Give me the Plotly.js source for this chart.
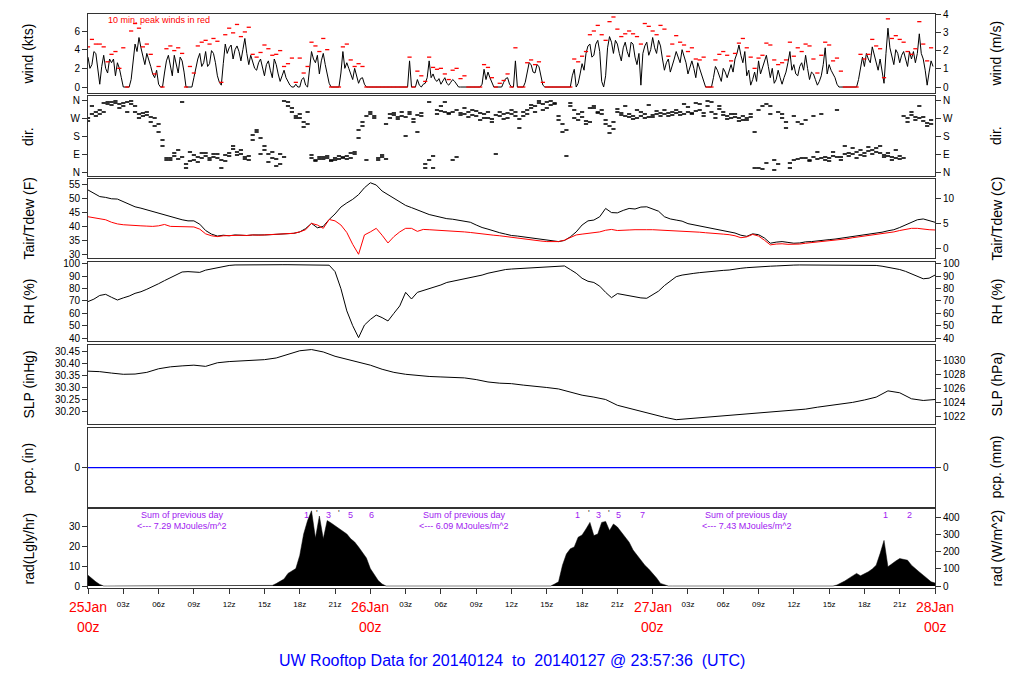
<!DOCTYPE html>
<html><head><meta charset="utf-8">
<script src="https://cdn.plot.ly/plotly-3.0.1.min.js"></script>
<style>html,body{margin:0;padding:0;background:#fff}#chart{width:1024px;height:700px}</style>
</head><body><div id="chart"></div>
<script>
// ---------- DATA (20-min slots: wind, peak, dir, rad) ----------
const windKts = [
3.2,2.4,3.6, 0.3,3.4,1.5, 2.6,1.2,2.0, 0,0,0.8, 4.6,5.3,3.2, 3.6,2.2,1.0, 0.3,0,2.8, 2.2,3.4,1.5,
2.8,0,0, 1.0,3.0,2.2, 3.8,2.5,3.6, 1.2,0.2,4.6, 4.2,3.0,4.4, 2.8,5.2,2.4, 2.8,1.8,3.0, 1.2,2.8,1.0,
2.4,0.6,1.8, 0.5,0,0.3, 0,1.0,0, 3.8,2.6,1.4, 3.6,1.5,0, 0,0,3.8, 2.6,1.4,2.0, 0.4,1.0,0,
0,0,0, 0,0,0, 0,0,0, 0,2.8,0, 0.8,0,0.4, 2.8,1.4,0.6, 0.3,1.0,0.2, 0.8,0.3,0,
0,0,0, 0,0,1.9, 1.6,0.4,0, 0,0.5,1.0, 0,2.8,0, 0,1.6,2.4, 1.5,2.2,0.2, 0,0,0,
0,0,0, 0,1.9,0.4, 2.5,3.6,4.6, 3.4,5.0,0.6, 1.2,5.4,3.6, 4.6,2.8,4.8, 3.2,4.6,2.4, 0.2,4.4,3.4,
5.3,3.6,4.4, 1.8,3.0,2.2, 3.8,2.6,3.4, 1.4,2.8,1.0, 2.0,0.8,0, 0,2.2,1.2, 2.0,1.0,2.4, 3.0,4.5,2.6,
1.2,0.2,1.6, 2.8,2.0,3.4, 1.0,0.4,1.8, 0.3,1.6,3.8, 2.4,1.2,2.6, 3.4,0.8,1.4, 0.2,1.2,4.2, 2.4,1.4,0.3,
0,0,0, 0,0,2.2, 2.2,3.0,4.3, 2.6,3.0,0.4, 6.3,3.2,4.0, 2.6,3.8,2.2, 3.0,2.6,5.7, 3.0,0.2,2.8];
// readings half-way between the slots above (10 minutes later)
const windKtsMid = [
2.0,3.8,1.6, 2.2,2.0,3.0, 3.0,2.6,1.0, 0,0,3.0, 3.8,4.2,2.4, 3.0,1.4,1.8, 0,1.5,3.4, 1.2,2.6,3.2,
1.6,0,0, 2.2,3.6,2.6, 2.2,3.9,2.6, 0.5,2.5,3.6, 4.5,4.0,3.8, 4.0,3.6,3.4, 2.0,2.6,2.2, 2.4,1.8,3.0,
1.4,1.2,1.0, 0.2,0,0, 0.8,0.2,2.2, 3.0,3.4,2.8, 2.4,0.4,0, 0,1.5,2.0, 2.0,0.8,1.2, 0.9,0.3,0,
0,0,0, 0,0,0, 0,0,0, 0,0,0, 0.2,0.3,1.0, 1.0,0.8,0.9, 0.7,0.4,0.5, 0.6,0,0,
0,0,0, 0,0.3,0.8, 1.0,0,0, 0,0.9,0.3, 0,0,0, 0.5,2.6,1.6, 2.4,1.2,0, 0,0,0,
0,0,0, 1.2,0,1.4, 1.8,4.4,3.2, 4.6,3.8,0, 4.2,4.8,5.0, 3.6,4.2,3.8, 4.8,3.2,3.6, 3.6,4.8,4.0,
4.2,5.0,3.0, 2.6,1.6,3.0, 3.2,4.0,2.6, 2.2,2.0,2.6, 1.2,0,0, 1.0,1.8,0.6, 1.6,1.8,1.6, 3.6,3.4,3.8,
1.8,0.8,0.6, 1.4,2.8,2.2, 2.0,0.8,1.0, 1.0,2.6,1.8, 1.4,2.2,1.8, 2.0,1.6,0.8, 0.6,2.4,1.4, 1.8,1.0,0,
0,0,0, 0,0.8,3.2, 3.6,2.6,3.4, 1.8,1.8,3.6, 4.2,2.4,3.6, 3.4,3.0,3.8, 3.8,3.6,3.6, 1.8,1.6,2.2];
const peakKts = [
4.3,5.1,4.6, 4.6,4.3,2.7, 3.5,3.8,2.0, 4.2,0,6.0, 6.8,6.3,4.3, 4.6,3.5,1.4, 2.2,0,4.1, 4.4,3.9,4.2,
3.6,0,2.2, 1.5,4.4,4.8, 5.0,4.6,5.2, 4.9,0.5,5.6, 6.3,5.8,6.7, 5.4,5.9,6.4, 3.5,3.2,3.7, 4.5,4.1,3.4,
3.5,3.9,2.2, 2.5,3.1,0.5, 3.1,1.5,2.2, 4.8,4.4,3.8, 5.2,4.0,0, 0,0,4.3, 4.6,2.9,2.2, 2.5,2.2,0,
0,0,0, 0,0,0, 0,0,0, 0,3.2,0, 1.7,1.2,0.6, 3.2,2.1,1.9, 2.0,1.4,0.8, 1.8,2.0,0.9,
1.2,0,0, 0,0,2.4, 2.1,1.0,0, 0.4,0.7,1.4, 0,4.2,0, 0,2.6,2.9, 2.4,2.7,0.5, 0,0,0,
0,0,0, 0,3.0,2.7, 3.3,3.8,5.6, 6.0,6.6,5.6, 5.0,7.0,7.5, 6.2,5.4,5.7, 6.0,5.7,5.4, 4.6,6.8,6.5,
6.0,5.6,6.6, 6.2,3.3,4.6, 5.5,4.8,4.5, 3.8,4.2,3.0, 2.9,3.2,0, 0,2.9,3.5, 3.8,3.4,2.8, 3.6,4.7,5.2,
4.2,3.2,2.0, 3.1,3.4,4.7, 4.5,2.9,2.4, 2.6,2.9,4.8, 3.3,4.2,3.8, 4.6,4.4,3.0, 1.5,3.4,4.8, 4.5,2.8,3.1,
1.7,0,0, 0,0,3.5, 3.0,3.5,5.1, 4.4,4.1,1.0, 7.3,5.2,5.5, 5.1,4.8,3.8, 3.5,4.1,7.0, 4.6,2.8,4.2];
const dirA = [
255,290,300, 310,345,340, 350,345,340, 345,350,340, 330,290,280, 285,275,270, 200,160,70, 70,80,65,
75,40,55, 60,75,70, 80,70,75, 70,60,85, 95,115,100, 90,75,80, 185,200,170, 110,90,70,
65,40,75, 330,300,280, 270,250,240, 70,60,75, 65,70,60, 70,65,75, 80,70,90, 210,250,280,
290,280,70, 75,65,270, 285,275,280, 275,290,265, 285,280,40, 60,20,310, 305,300,295, 300,75,295,
290,300,285, 280,295,270, 270,265,285, 280,290,270, 290,280,265, 300,290,320, 330,345,310, 350,335,340,
280,240,210, 330,310,290, 275,255,250, 320,300,310, 240,230,215, 300,285,280, 275,280,270, 280,290,275,
285,290,295, 290,295,285, 295,300,290, 300,295,305, 310,295,330, 300,290,315, 285,280,270, 275,270,280,
270,275,20, 310,15,340, 290,10,40, 270,250,20, 60,250,70, 70,60,75, 65,70,75, 70,80,75,
75,90,80, 90,100,85, 95,105,90, 100,95,85, 80,75,70, 80,280,270, 285,275,270, 255,245,240];
const dirB = [
270,330,280, 290,300,350, 335,355,320, 330,300,355, 300,270,295, 300,250,230, 240,130,60, 60,95,110,
350,20,100, 85,50,95, 95,60,90, 90,20,55, 80,130,85, 110,65,60, 160,210,90, 130,50,100,
30,90,355, 350,320,270, 290,225,300, 85,55,65, 75,80,55, 60,80,70, 65,95,100, 170,230,60,
300,270,60, 85,240,290, 295,265,300, 180,300,250, 200,295,20, 350,80,290, 330,350,290, 60,310,285,
320,275,310, 305,260,290, 300,250,90, 300,265,295, 310,300,220, 280,310,335, 300,355,340, 320,355,345,
260,200,80, 345,270,260, 300,240,320, 330,295,290, 260,195,250, 315,295,330, 290,265,310, 300,270,335,
275,305,280, 310,280,300, 310,285,340, 325,290,345, 340,280,355, 350,270,330, 300,265,290, 290,255,260,
260,290,200, 20,330,45, 330,60,300, 290,220,45, 280,65,240, 260,55,280, 100,290,60, 55,100,310,
60,130,95, 120,70,110, 80,125,110, 120,130,75, 95,60,110, 65,70,250, 300,260,330, 275,230,260];
const radLgly = [
5.4,3.5,2.1, 0.8,0,0, 0,0,0, 0,0,0, 0,0,0, 0,0,0, 0,0,0, 0,0,0, 0,0,0, 0,0,0, 0,0,0, 0,0,0, 0,0,0, 0,0,0, 0,0,0,
0,0,0.3, 1.2,2.4,3.5, 6.3,7.5,8.7, 15.3,26,32.7, 37.6,24,35, 23.6,32.7,31.5, 30.2,29,27.7, 26,23.6,22, 19.5,17,14,
8.7,5.5,2.8, 1.0,0,0, 0,0,0, 0,0,0, 0,0,0, 0,0,0, 0,0,0, 0,0,0, 0,0,0, 0,0,0, 0,0,0, 0,0,0, 0,0,0, 0,0,0, 0,0,0,
0,0,1.0, 2.1,10.4,16, 18.6,19.5,24.4, 25.5,28.5,31.8, 25.2,26,31.8, 32.3,27.7,31, 29.5,26.9,24.5, 21.9,18,15.3, 13,10.4,8.5,
6.3,4,1.3, 0.5,0,0, 0,0,0, 0,0,0, 0,0,0, 0,0,0, 0,0,0, 0,0,0, 0,0,0, 0,0,0, 0,0,0, 0,0,0, 0,0,0, 0,0,0, 0,0,0,
0,0,0.5, 1.3,2.5,3.8, 5.0,6.3,5.1, 6.0,7.1,8.5, 10.4,16.2,22.8, 9.6,11.2,12.5, 13.7,13.2,12.9, 10.4,8.5,7.0, 5.4,3.5,2.1, 1.5];
// ---------- DATA (30-min resolution) ----------
const tairF = [
53.2,52.0, 50.8,50.5, 50.0,49.9, 49.0,48.0, 47.1,46.6, 46.0,45.3, 44.6,44.0, 43.5,43.0, 42.4,42.0, 42.0,40.8,
38.5,37.2, 36.5,36.8, 36.6,36.9, 36.8,36.7, 36.9,36.8, 36.9,37.0, 37.1,37.2, 37.3,37.5, 38.0,39.2, 41.1,39.5,
40.0,42.5, 44.5,47.0, 48.5,49.8, 51.5,54.0, 55.8,55.0, 52.8,51.5, 50.0,48.8, 47.6,46.8, 46.0,45.2, 44.3,43.8,
43.3,42.8, 42.6,42.3, 41.9,41.5, 40.5,39.6, 39.0,38.3, 37.7,37.2, 36.7,36.5, 36.2,35.9, 35.6,35.4, 35.1,34.8,
34.5,34.9, 36.2,38.0, 40.5,42.0, 42.3,43.5, 46.5,45.0, 44.9,45.8, 46.5,46.3, 47.0,47.1, 46.4,45.5, 43.5,42.7,
42.3,41.9, 41.0,40.6, 40.0,39.6, 39.2,38.9, 38.5,38.1, 37.6,36.8, 36.4,37.3, 37.0,35.8, 33.9,34.3, 34.5,34.2,
33.9,34.0, 34.4,34.5, 34.8,35.0, 35.2,35.4, 35.7,35.9, 36.2,36.5, 36.8,37.1, 37.5,37.9, 38.4,38.8, 39.6,40.6,
41.5,42.4, 42.7,42.2, 41.5];
const tdewF = [
43.5,43.1, 42.9,42.4, 41.5,40.9, 40.6,40.4, 40.3,40.2, 40.1,40.0, 40.2,40.7, 40.0,39.9, 39.9,39.9, 39.8,39.0,
37.3,36.6, 36.3,36.6, 36.7,36.9, 36.8,36.7, 36.9,36.8, 36.9,37.0, 37.1,37.2, 37.3,37.5, 38.0,38.8, 41.1,40.5,
39.3,42.5, 42.0,40.5, 37.8,33.5, 29.9,36.9, 38.0,39.3, 36.8,34.0, 36.3,38.0, 39.3,39.3, 38.2,38.9, 38.8,38.7,
38.6,38.5, 38.3,38.2, 38.0,37.8, 37.5,37.3, 37.1,36.8, 36.6,36.3, 36.0,35.8, 35.5,35.2, 35.0,34.7, 34.5,34.4,
34.5,35.0, 36.0,36.9, 37.2,37.5, 37.7,38.0, 38.6,38.9, 38.5,38.7, 38.7,38.8, 38.7,38.8, 38.8,38.7, 38.7,38.6,
38.5,38.3, 38.2,38.1, 37.9,37.7, 37.6,37.4, 37.2,37.0, 36.6,35.9, 36.2,37.1, 36.5,35.0, 33.3,33.6, 33.7,33.5,
33.5,33.6, 33.9,34.1, 34.3,34.6, 34.8,35.0, 35.2,35.5, 35.9,36.2, 36.4,36.7, 37.0,37.4, 37.7,38.0, 38.5,39.0,
39.3,39.3, 39.0,38.8, 38.7];
const rhPct = [
69.5,71.5, 74.5,75.4, 73.0,70.8, 72.5,74.0, 76.2,77.5, 79.5,81.6, 84.0,86.5, 89.0,91.0, 93.5,93.8, 93.5,93.2,
95.0,96.0, 97.0,98.0, 98.8,99.2, 99.3,99.4, 99.4,99.3, 99.4,99.4, 99.3,99.4, 99.4,99.3, 99.2,99.3, 99.3,99.2,
99.1,99.0, 93.8,80.0, 62.0,50.0, 40.3,50.5, 55.0,58.6, 56.5,53.8, 60.0,66.0, 77.0,71.6, 77.0,78.5, 80.0,81.0,
83.0,85.0, 86.0,86.5, 87.5,88.5, 90.0,91.0, 92.5,93.5, 95.0,95.5, 95.9,96.2, 96.5,96.8, 97.0,97.3, 97.8,98.0,
98.3,98.4, 95.5,92.5, 88.4,86.0, 85.0,82.0, 77.0,72.7, 76.0,75.0, 74.0,73.5, 72.5,72.2, 74.9,78.0, 82.5,86.0,
89.7,91.0, 92.0,92.4, 93.0,93.6, 94.0,94.2, 94.8,95.1, 96.0,96.5, 97.0,97.4, 97.8,98.0, 98.2,98.4, 98.8,99.0,
99.1,99.2, 99.2,99.3, 99.3,99.2, 99.3,99.3, 99.2,99.3, 99.3,99.2, 99.1,99.0, 98.8,98.2, 97.5,96.5, 95.5,94.0,
92.0,90.0, 88.0,88.5, 91.0];
// ---------- DATA (hourly / 3-hourly) ----------
const slpInHg = [
30.370,30.368,30.362,30.357,30.358,30.365,30.380,30.388,30.392,30.395,30.390,30.405,30.410,30.412,30.414,30.418,
30.425,30.440,30.455,30.460,30.450,30.432,30.420,30.408,30.395,30.378,30.365,30.357,30.352,30.348,30.346,30.345,
30.342,30.335,30.325,30.320,30.318,30.312,30.308,30.302,30.296,30.283,30.270,30.262,30.252,30.228,30.215,30.205,
30.190,30.178,30.168,30.172,30.178,30.180,30.184,30.190,30.195,30.196,30.200,30.205,30.208,30.212,30.220,30.226,
30.232,30.240,30.250,30.262,30.288,30.280,30.255,30.248,30.252];
const pcpIn = [0,0,0,0,0,0,0,0,0,0,0,0,0,0,0,0,0,0,0,0,0,0,0,0,0];
const dayLabels = ['25Jan','26Jan','27Jan','28Jan'];
const radSums = ['7.29','6.09','7.43'];
const radHours = [['1','3','5','6'],['1','3','5','7'],['1','2']];
const radHourPos = [[18.55,20.45,22.3,24.13],[41.65,43.4,45.1,47.15],[67.8,69.85]];
const radMinorPos = [19.5,21.3,42.55,44.25];

// ---------- LAYOUT ----------
const W = 1024, H = 700, L = 88, R = 935;
const FONT = 'Liberation Sans, Arial, Helvetica, sans-serif';
const px2x = p => (p - L) / (R - L);
const py2y = p => 1 - p / H;
const tW = windKts.map((_, i) => i / 3);
const tWm = windKtsMid.map((_, i) => i / 3 + 1 / 6);
const windT = [], windV = [];
windKts.forEach((v, i) => { windT.push(tW[i], tWm[i]); windV.push(v, windKtsMid[i]); });
const tR = radLgly.map((_, i) => i / 3);
const t30 = tairF.map((_, i) => i / 2);
const tS = slpInHg.map((_, i) => i);
const tP = pcpIn.map((_, i) => i * 3);

const panels = [[14,93],[96,176],[179,258],[262,341],[345,424],[428,507],[509,588]];
const ytitL = ['wind (kts)','dir.','Tair/Tdew (F)','RH (%)','SLP (inHg)','pcp. (in)','rad(Lgly/hr)'];
const ytitR = ['wind (m/s)','dir.','Tair/Tdew (C)','RH (%)','SLP (hPa)','pcp. (mm)','rad (W/m^2)'];
const ranges = [[-0.64,7.82],[-20,380],[28.55,57.17],[37.57,101.6],[30.15,30.479],[-1,1.013],[-1,38.5]];
const conv = [v=>v*0.514444, v=>v, v=>(v-32)/1.8, v=>v, v=>v*33.8639, v=>v*25.4, v=>v*11.63];
const tvL = [[0,2,4,6],[0,90,180,270,360],[30,35,40,45,50,55],[40,50,60,70,80,90,100],[30.20,30.25,30.30,30.35,30.40,30.45],[0],[0,10,20,30]];
const ttL = [null,['N','E','S','W','N'],null,null,['30.20','30.25','30.30','30.35','30.40','30.45'],null,null];
const tvR = [[0,1,2,3,4],[0,90,180,270,360],[0,5,10],[40,50,60,70,80,90,100],[1022,1024,1026,1028,1030],[0],[0,100,200,300,400]];
const ttR = [null,['N','E','S','W','N'],null,null,null,null,null];

const layout = {
  width: W, height: H, margin: {l: L, r: W - R, t: 0, b: 0},
  paper_bgcolor: '#fff', plot_bgcolor: 'rgba(0,0,0,0)', showlegend: false,
  font: {family: FONT, size: 10, color: '#000'},
  annotations: []
};
const xTicks = [], xText = [];
for (let h = 0; h <= 72; h += 3) { xTicks.push(h); xText.push(h % 24 === 0 ? '' : String(h % 24).padStart(2, '0') + 'z'); }

for (let i = 0; i < 7; i++) {
  const n = i + 1, sfx = n === 1 ? '' : String(n);
  const dom = [py2y(panels[i][1]), py2y(panels[i][0])];
  const last = i === 6;
  layout['xaxis' + sfx] = {
    domain: [0, 1], anchor: 'y' + sfx, range: [0, 72], showgrid: false, zeroline: false,
    showline: true, mirror: true, linecolor: '#333', linewidth: 1,
    ticks: last ? 'outside' : '', ticklen: 5, tickcolor: '#333',
    tickvals: last ? xTicks : [], ticktext: last ? xText : [], showticklabels: last,
    tickfont: {size: 8, family: FONT}, ticklabelstandoff: 3, fixedrange: true
  };
  const yl = {
    domain: dom, anchor: 'x' + sfx, range: ranges[i], showgrid: false,
    zeroline: i === 5, zerolinecolor: '#0000ff', zerolinewidth: 1,
    showline: true, mirror: true, linecolor: '#333', linewidth: 1,
    ticks: 'outside', ticklen: 5, tickcolor: '#333', tickvals: tvL[i], tickfont: {size: 10, family: FONT}
  };
  if (ttL[i]) yl.ticktext = ttL[i];
  layout['yaxis' + sfx] = yl;
  const yr = {
    overlaying: 'y' + sfx, anchor: 'x' + sfx, side: 'right', range: ranges[i].map(conv[i]),
    showgrid: false, zeroline: false, showline: false, ticks: 'outside', ticklen: 5, tickcolor: '#333',
    tickvals: tvR[i], tickfont: {size: 10, family: FONT}
  };
  if (ttR[i]) yr.ticktext = ttR[i];
  layout['yaxis' + (n + 7)] = yr;
  const cy = py2y((panels[i][0] + panels[i][1]) / 2);
  layout.annotations.push({xref: 'paper', yref: 'paper', x: px2x(28), y: cy, text: ytitL[i], textangle: -90, showarrow: false, font: {size: 14, family: FONT}, xanchor: 'center', yanchor: 'middle'});
  layout.annotations.push({xref: 'paper', yref: 'paper', x: px2x(996), y: cy, text: ytitR[i], textangle: -90, showarrow: false, font: {size: 14, family: FONT}, xanchor: 'center', yanchor: 'middle'});
}

layout.annotations.push({xref: 'paper', yref: 'paper', x: px2x(106), y: py2y(20), text: '10 min. peak winds in red', showarrow: false, xanchor: 'left', yanchor: 'middle', font: {size: 9, color: '#ff0000', family: FONT}});
dayLabels.forEach((d, k) => {
  layout.annotations.push({xref: 'x7', yref: 'paper', x: k * 24, y: py2y(607), text: d, showarrow: false, xanchor: 'center', yanchor: 'middle', font: {size: 14, color: '#ff0000', family: FONT}});
  layout.annotations.push({xref: 'x7', yref: 'paper', x: k * 24, y: py2y(627), text: '00z', showarrow: false, xanchor: 'center', yanchor: 'middle', font: {size: 14, color: '#ff0000', family: FONT}});
});
const PURPLE = '#a020f0';
radSums.forEach((s, k) => {
  const xc = 8 + 24 * k;
  layout.annotations.push({xref: 'x7', yref: 'paper', x: xc, y: py2y(515), text: 'Sum of previous day', showarrow: false, xanchor: 'center', yanchor: 'middle', font: {size: 9, color: PURPLE, family: FONT}});
  layout.annotations.push({xref: 'x7', yref: 'paper', x: xc, y: py2y(526), text: '&lt;--- ' + s + ' MJoules/m^2', showarrow: false, xanchor: 'center', yanchor: 'middle', font: {size: 9, color: PURPLE, family: FONT}});
});
radHours.forEach((arr, k) => arr.forEach((t, j) => {
  layout.annotations.push({xref: 'x7', yref: 'paper', x: radHourPos[k][j], y: py2y(515), text: t, showarrow: false, xanchor: 'center', yanchor: 'middle', font: {size: 9, color: PURPLE, family: FONT}});
}));
radMinorPos.forEach(p => {
  layout.annotations.push({xref: 'x7', yref: 'paper', x: p, y: py2y(513), text: "'", showarrow: false, xanchor: 'center', yanchor: 'middle', font: {size: 9, color: '#333', family: FONT}});
});
layout.annotations.push({xref: 'paper', yref: 'paper', x: px2x(512), y: py2y(660), text: 'UW Rooftop Data for 20140124\u00a0 to\u00a0 20140127 @ 23:57:36\u00a0 (UTC)', showarrow: false, xanchor: 'center', yanchor: 'middle', font: {size: 16, color: '#0000ff', family: FONT}});

const data = [];
for (let i = 0; i < 7; i++) {
  const n = i + 1, sfx = n === 1 ? '' : String(n);
  data.push({x: [], y: [], xaxis: 'x' + sfx, yaxis: 'y' + (n + 7), type: 'scatter', mode: 'lines', hoverinfo: 'skip'});
}
data.push(
  {x: windT, y: windV, xaxis: 'x', yaxis: 'y', mode: 'lines', line: {color: '#000', width: 1}},
  {x: tW, y: peakKts, xaxis: 'x', yaxis: 'y', mode: 'markers', marker: {symbol: 'line-ew', size: 3, line: {color: '#ff0000', width: 1.3}}},
  {x: tW, y: dirA, xaxis: 'x2', yaxis: 'y2', mode: 'markers', marker: {symbol: 'line-ew', size: 3, line: {color: '#000', width: 1.6}}},
  {x: tW, y: dirB, xaxis: 'x2', yaxis: 'y2', mode: 'markers', marker: {symbol: 'line-ew', size: 3, line: {color: '#000', width: 1.6}}},
  {x: t30, y: tairF, xaxis: 'x3', yaxis: 'y3', mode: 'lines', line: {color: '#000', width: 1}},
  {x: t30, y: tdewF, xaxis: 'x3', yaxis: 'y3', mode: 'lines', line: {color: '#ff0000', width: 1}},
  {x: t30, y: rhPct, xaxis: 'x4', yaxis: 'y4', mode: 'lines', line: {color: '#000', width: 1}},
  {x: tS, y: slpInHg, xaxis: 'x5', yaxis: 'y5', mode: 'lines', line: {color: '#000', width: 1}},
  {x: tP, y: pcpIn, xaxis: 'x6', yaxis: 'y6', mode: 'lines', line: {color: '#0000ff', width: 1, simplify: false}},
  {x: tR, y: radLgly, xaxis: 'x7', yaxis: 'y7', mode: 'lines', fill: 'tozeroy', fillcolor: '#000', line: {color: '#000', width: 0.5}}
);
Plotly.newPlot('chart', data, layout, {displayModeBar: false, staticPlot: true});
</script>
</body></html>
